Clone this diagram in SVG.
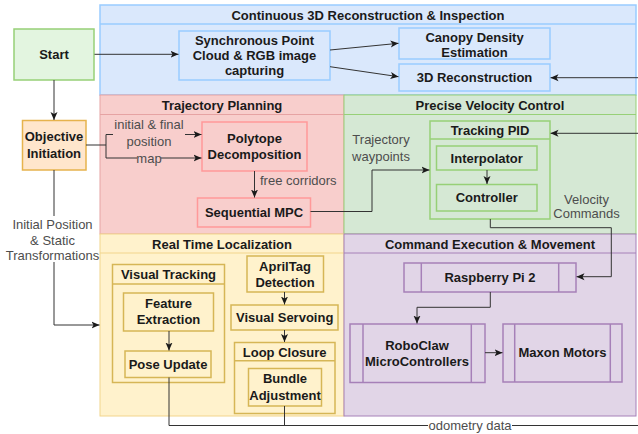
<svg xmlns="http://www.w3.org/2000/svg" width="638" height="434" viewBox="0 0 638 434">
<style>
text{font-family:"Liberation Sans",Arial,Helvetica,sans-serif;font-size:13px;text-anchor:middle}
.b{font-weight:bold;fill:#1a1a1a}
.l{fill:#4d4d4d}
.blue{fill:#dae8fc;stroke:#99ccff;stroke-width:1.5}
.pink{fill:#f8cecc;stroke:#ff9999;stroke-width:1.5}
.pinkc{fill:#f8cecc;stroke:#e6a3a3;stroke-width:1}
.green{fill:#d5e8d4;stroke:#97d077;stroke-width:1.5}
.greenc{fill:#d5e8d4;stroke:#97d077;stroke-width:1}
.yel{fill:#fff2cc;stroke:#d6b656;stroke-width:1.5}
.yelc{fill:#fff2cc;stroke:#f2d58c;stroke-width:1}
.pur{fill:#e1d5e7;stroke:#a680b8;stroke-width:1.5}
.purc{fill:#e1d5e7;stroke:#a680b8;stroke-width:1}
.hl{fill:none}
.c{fill:none;stroke:#333;stroke-width:1}
.a{marker-end:url(#arr)}
</style>
<defs>
<marker id="arr" viewBox="0 0 8 8" refX="8" refY="4" markerWidth="8" markerHeight="8" markerUnits="userSpaceOnUse" orient="auto">
<path d="M0,0.5 L8,4 L0,7.5 L2,4 Z" fill="#1a1a1a"/>
</marker>
</defs>
<rect width="638" height="434" fill="#ffffff"/>

<g id="c-recon">
<rect class="blue" x="100" y="5" width="536" height="90"/>
<line x1="100" y1="24" x2="636" y2="24" stroke="#99ccff" stroke-width="1.5"/>
<text class="b" x="368" y="19.5">Continuous 3D Reconstruction &amp; Inspection</text>
</g>
<g id="c-traj">
<rect class="pinkc" x="100" y="95" width="244" height="139"/>
<line x1="100" y1="114.5" x2="344" y2="114.5" stroke="#e6a3a3"/>
<text class="b" x="222" y="109.5">Trajectory Planning</text>
</g>
<g id="c-vel">
<rect class="greenc" x="344" y="95" width="292" height="139"/>
<line x1="344" y1="114.5" x2="636" y2="114.5" stroke="#97d077"/>
<text class="b" x="490" y="109.5">Precise Velocity Control</text>
</g>
<g id="c-loc">
<rect class="yelc" x="100" y="234" width="244" height="182"/>
<line x1="100" y1="253" x2="344" y2="253" stroke="#f2d58c"/>
<text class="b" x="222" y="248.5">Real Time Localization</text>
</g>
<g id="c-cmd">
<rect class="purc" x="344" y="234" width="292" height="182"/>
<line x1="344" y1="253" x2="636" y2="253" stroke="#a680b8"/>
<text class="b" x="490" y="248.5">Command Execution &amp; Movement</text>
</g>

<g id="start">
<rect x="14" y="29" width="80" height="51" fill="#e3f5e0" stroke="#97d077" stroke-width="1.5"/>
<text class="b" x="54" y="59">Start</text>
</g>
<g id="objective">
<rect x="22.5" y="120.5" width="63.5" height="49.5" fill="#ffe6cc" stroke="#e6b34d" stroke-width="1.5"/>
<text class="b" x="54" y="141.2">Objective</text>
<text class="b" x="54" y="157.8">Initiation</text>
</g>
<g id="sync">
<rect class="blue" x="179" y="31" width="151" height="49"/>
<text class="b" x="254.5" y="44.5">Synchronous Point</text>
<text class="b" x="254.5" y="59.8">Cloud &amp; RGB image</text>
<text class="b" x="254.5" y="75.2">capturing</text>
</g>
<g id="canopy">
<rect class="blue" x="399" y="28" width="151" height="31"/>
<text class="b" x="474.5" y="41.8">Canopy Density</text>
<text class="b" x="474.5" y="56.8">Estimation</text>
</g>
<g id="recon3d">
<rect class="blue" x="399" y="64" width="151" height="27"/>
<text class="b" x="474.5" y="82.2">3D Reconstruction</text>
</g>
<g id="polytope">
<rect class="pink" x="202" y="122" width="105" height="49"/>
<text class="b" x="254.5" y="142.8">Polytope</text>
<text class="b" x="254.5" y="158.8">Decomposition</text>
</g>
<g id="mpc">
<rect class="pink" x="197.5" y="198" width="113" height="29"/>
<text class="b" x="254" y="217.2">Sequential MPC</text>
</g>
<g id="tracking">
<rect class="green" x="430" y="121" width="120" height="98"/>
<line x1="430" y1="139" x2="550" y2="139" stroke="#97d077" stroke-width="1.5"/>
<text class="b" x="490" y="134.5">Tracking PID</text>
</g>
<g id="interp">
<rect class="green" x="436.5" y="146" width="100.5" height="24"/>
<text class="b" x="486.7" y="162.8">Interpolator</text>
</g>
<g id="controller">
<rect class="green" x="436.5" y="184.5" width="100.5" height="26.5"/>
<text class="b" x="486.7" y="202">Controller</text>
</g>
<g id="vtrack">
<rect class="yel" x="112.5" y="264.5" width="112" height="118"/>
<line x1="112.5" y1="284" x2="224.5" y2="284" stroke="#d6b656" stroke-width="1.5"/>
<text class="b" x="168.5" y="278.8">Visual Tracking</text>
</g>
<g id="feature">
<rect class="yel" x="123.5" y="293" width="90" height="38"/>
<text class="b" x="168.5" y="307.8">Feature</text>
<text class="b" x="168.5" y="323.8">Extraction</text>
</g>
<g id="pose">
<rect class="yel" x="125" y="351" width="86" height="26.5"/>
<text class="b" x="168" y="368.5">Pose Update</text>
</g>
<g id="april">
<rect class="yel" x="247" y="256" width="76.5" height="36"/>
<text class="b" x="285" y="271.2">AprilTag</text>
<text class="b" x="285" y="287.2">Detection</text>
</g>
<g id="servo">
<rect class="yel" x="231" y="305" width="107" height="25"/>
<text class="b" x="284.7" y="322.2">Visual Servoing</text>
</g>
<g id="loop">
<rect class="yel" x="234.5" y="342.5" width="100.5" height="71"/>
<line x1="234.5" y1="360.7" x2="335" y2="360.7" stroke="#d6b656" stroke-width="1.5"/>
<text class="b" x="284.7" y="356.8">Loop Closure</text>
</g>
<g id="bundle">
<rect class="yel" x="248.5" y="368.5" width="73" height="37.5"/>
<text class="b" x="285" y="382.8">Bundle</text>
<text class="b" x="285" y="399.5">Adjustment</text>
</g>
<g id="rpi">
<rect class="pur" x="404" y="263" width="172" height="29"/>
<line x1="421.3" y1="263" x2="421.3" y2="292" stroke="#a680b8" stroke-width="1.5"/>
<line x1="558.7" y1="263" x2="558.7" y2="292" stroke="#a680b8" stroke-width="1.5"/>
<text class="b" x="490" y="281.8">Raspberry Pi 2</text>
</g>
<g id="roboclaw">
<rect class="pur" x="350" y="324" width="135" height="58.5"/>
<line x1="363" y1="324" x2="363" y2="382.5" stroke="#a680b8" stroke-width="1.5"/>
<line x1="471.3" y1="324" x2="471.3" y2="382.5" stroke="#a680b8" stroke-width="1.5"/>
<text class="b" x="417" y="349.5">RoboClaw</text>
<text class="b" x="417" y="366.2">MicroControllers</text>
</g>
<g id="maxon">
<rect class="pur" x="503" y="324" width="119" height="58"/>
<line x1="514.7" y1="324" x2="514.7" y2="382" stroke="#a680b8" stroke-width="1.5"/>
<line x1="610.3" y1="324" x2="610.3" y2="382" stroke="#a680b8" stroke-width="1.5"/>
<text class="b" x="562.5" y="357.2">Maxon Motors</text>
</g>

<g id="connectors">
<path class="c a" d="M54,80 V120"/>
<path class="c a" d="M94.5,54.3 H178.5"/>
<path class="c a" d="M330,50 L398.5,43.3"/>
<path class="c a" d="M330,66.7 L398.5,76.7"/>
<path class="c a" d="M638,77.7 H550.5"/>
<path class="c a" d="M638,133.3 H550.5"/>
<path class="c a" d="M86,145 H106 V134.5 H201.5"/>
<rect x="113" y="117" width="72" height="31" fill="#f8cecc"/>
<text class="l" x="149" y="128.8">initial &amp; final</text>
<text class="l" x="149" y="145.5">position</text>
<path class="c a" d="M106,145 V158 H201.5"/>
<rect x="137" y="151" width="24" height="14" fill="#f8cecc"/>
<text class="l" x="149" y="162.5">map</text>
<path class="c a" d="M254.5,171 V197.5"/>
<text class="l" x="260" y="185.2" style="text-anchor:start">free corridors</text>
<path class="c a" d="M310.5,211.5 H372 V170 H429.5"/>
<text class="l" x="381" y="143.8">Trajectory</text>
<text class="l" x="381" y="160.5">waypoints</text>
<path class="c a" d="M487,170 V184"/>
<path class="c a" d="M490.3,219 V227.7 H611.3 V276.7 H576.5"/>
<text class="l" x="586.5" y="203.5">Velocity</text>
<text class="l" x="586.5" y="217.8">Commands</text>
<path class="c a" d="M490.3,292 V307.3 H417 V323.5"/>
<path class="c a" d="M485,352.7 H502.5"/>
<path class="c a" d="M54,170 V325 H99.5"/>
<rect x="6" y="216" width="93" height="46" fill="#ffffff"/>
<text class="l" x="52.5" y="228.5">Initial Position</text>
<text class="l" x="52.5" y="244.5">&amp; Static</text>
<text class="l" x="52.5" y="260">Transformations</text>
<path class="c a" d="M169,331 V350.5"/>
<path class="c a" d="M284.5,292 V304.5"/>
<path class="c a" d="M284.5,330 V342"/>
<path class="c" d="M169,377.5 V425.5 H638"/>
<path class="c" d="M284.5,406 V425.5"/>
<rect x="428" y="418" width="84" height="15" fill="#ffffff"/>
<text class="l" x="470" y="430">odometry data</text>
</g>
</svg>
